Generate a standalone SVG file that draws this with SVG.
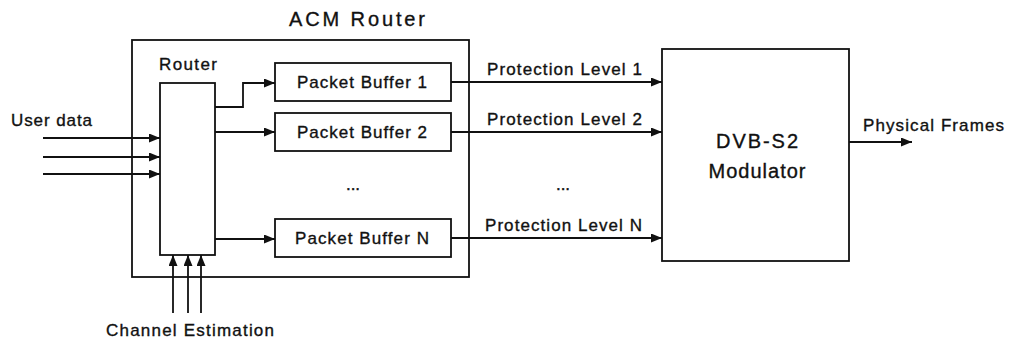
<svg xmlns="http://www.w3.org/2000/svg" width="1011" height="341" viewBox="0 0 1011 341">
  <style>
    .box { fill: #fff; stroke: #111; stroke-width: 1.8; }
    .wire { fill: none; stroke: #111; stroke-width: 1.8; marker-end: url(#head); }
    text { font-family: "Liberation Sans", Arial, Helvetica, sans-serif; fill: #111; stroke: #111; stroke-width: 0.35; }
    .lbl { font-size: 17px; }
    .big { font-size: 20px; }
    .mid { text-anchor: middle; }
  </style>
  <defs>
    <marker id="head" viewBox="0 0 11 9" refX="11" refY="4.5" markerWidth="11" markerHeight="9" markerUnits="userSpaceOnUse" orient="auto">
      <path d="M0,0 L11,4.5 L0,9 Z" fill="#111"/>
    </marker>
  </defs>

  <rect width="1011" height="341" fill="#fff"/>

  <!-- ACM router container -->
  <g id="acm-router">
    <rect class="box" x="132" y="40" width="337" height="237"/>
    <text class="big mid" x="357" y="26" textLength="136" lengthAdjust="spacing">ACM Router</text>
  </g>

  <g id="router">
    <rect class="box" x="160" y="83" width="55" height="172"/>
    <text class="lbl" x="159" y="70" textLength="58" lengthAdjust="spacing">Router</text>
  </g>

  <g id="buffer-1">
    <rect class="box" x="275" y="63" width="176" height="38"/>
    <text class="lbl mid" x="362" y="88" textLength="130" lengthAdjust="spacing">Packet Buffer 1</text>
  </g>
  <g id="buffer-2">
    <rect class="box" x="275" y="113" width="176" height="38"/>
    <text class="lbl mid" x="362" y="138" textLength="130" lengthAdjust="spacing">Packet Buffer 2</text>
  </g>
  <g id="buffer-n">
    <rect class="box" x="275" y="219" width="176" height="38"/>
    <text class="lbl mid" x="362" y="244" textLength="134" lengthAdjust="spacing">Packet Buffer N</text>
  </g>
  <text class="lbl mid" x="353" y="190">...</text>

  <g id="modulator">
    <rect class="box" x="662" y="49" width="187" height="212"/>
    <text class="big mid" x="757" y="148" textLength="82" lengthAdjust="spacing">DVB-S2</text>
    <text class="big mid" x="757" y="178" textLength="97" lengthAdjust="spacing">Modulator</text>
  </g>

  <!-- connectors -->
  <g id="connectors">
    <!-- user data inputs -->
    <path class="wire" d="M43,138 H160"/>
    <path class="wire" d="M43,157 H160"/>
    <path class="wire" d="M43,174 H160"/>
    <!-- channel estimation inputs -->
    <path class="wire" d="M173,313 V255"/>
    <path class="wire" d="M188,313 V255"/>
    <path class="wire" d="M201,313 V255"/>
    <!-- router to buffers -->
    <path class="wire" d="M215,107 H243 V83 H275"/>
    <path class="wire" d="M215,132 H275"/>
    <path class="wire" d="M215,239 H275"/>
    <!-- buffers to modulator -->
    <path class="wire" d="M451,82 H662"/>
    <path class="wire" d="M451,132 H662"/>
    <path class="wire" d="M451,238 H662"/>
    <!-- modulator output -->
    <path class="wire" d="M849,142 H912"/>
  </g>

  <g id="labels">
    <text class="lbl" x="11" y="126" textLength="81" lengthAdjust="spacing">User data</text>
    <text class="lbl mid" x="190" y="336" textLength="168" lengthAdjust="spacing">Channel Estimation</text>
    <text class="lbl" x="487" y="75" textLength="155" lengthAdjust="spacing">Protection Level 1</text>
    <text class="lbl" x="487" y="125" textLength="155" lengthAdjust="spacing">Protection Level 2</text>
    <text class="lbl" x="485" y="231" textLength="157" lengthAdjust="spacing">Protection Level N</text>
    <text class="lbl mid" x="563" y="190">...</text>
    <text class="lbl" x="863" y="131" textLength="141" lengthAdjust="spacing">Physical Frames</text>
  </g>
</svg>
